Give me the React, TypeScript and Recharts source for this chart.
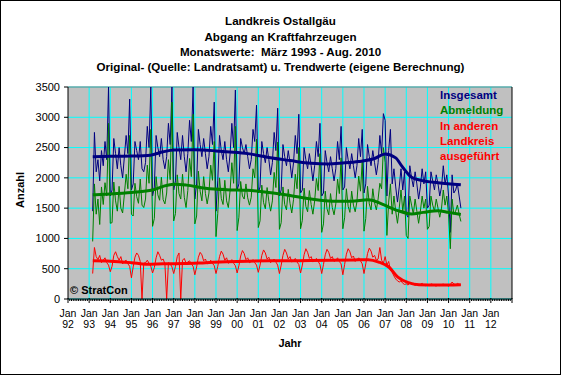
import { LineChart, Line, XAxis, YAxis, CartesianGrid, ReferenceLine } from "recharts"

// Monatswerte März 1993 - Aug. 2010 (one value per month)
const firstYear = 1993
const firstMonth = 2 // März

const insgesamt = [
  1450, 2750, 2100, 2300, 1950, 2450, 2200, 2600, 2300, 3500, // 1993
  1700, 1800, 2650, 2400, 2150, 2500, 2200, 2000, 2350, 2700, 2400, 3300,
  1800, 1900, 2600, 2450, 2300, 2600, 2150, 2100, 2250, 2850, 2500, 3500,
  1700, 1850, 2700, 2500, 2350, 2650, 2300, 2150, 2350, 2900, 2550, 3500,
  1800, 1950, 2750, 2500, 2300, 2700, 2350, 2100, 2400, 2950, 2600, 3500,
  1650, 1900, 2800, 2550, 2350, 2650, 2400, 2150, 2350, 2850, 2550, 3250,
  1450, 1950, 2700, 2450, 2300, 2600, 2300, 2100, 2400, 2900, 2500, 3450,
  1800, 1900, 2650, 2500, 2400, 2550, 2350, 2150, 2300, 2800, 2600, 3200,
  1750, 1850, 2600, 2400, 2250, 2500, 2300, 2050, 2250, 2750, 2450, 3150,
  1700, 1800, 2550, 2350, 2200, 2450, 2250, 2000, 2250, 2700, 2400, 3050,
  1750, 1800, 2500, 2300, 2150, 2400, 2200, 1950, 2200, 2600, 2350, 2900,
  1700, 1750, 2450, 2250, 2100, 2350, 2150, 1950, 2150, 2600, 2300, 2850,
  1800, 1850, 2500, 2300, 2150, 2400, 2200, 2000, 2200, 2650, 2350, 2800,
  1750, 1900, 2550, 2350, 2200, 2450, 2250, 2050, 2250, 2700, 2400, 3060,
  2950, 1700, 2450, 2800, 1900, 2150, 1850, 1600, 1850, 2150, 1800, 2100,
  1400, 1350, 2200, 2000, 1850, 2100, 1900, 1650, 1850, 2150, 1900, 2100,
  1500, 1550, 2100, 1950, 1800, 2050, 1900, 1700, 1850, 2200, 1900, 2050,
  1700, 1100, 2050, 1750, 1800, 1900, 1700, 1500, // 2010
]

const abmeldung = [
  950, 1900, 1400, 1650, 1230, 1850, 1560, 1920, 1700, 2900,
  1250, 1260, 1930, 1620, 1450, 1860, 1500, 1420, 1730, 2060, 1820, 2700,
  1400, 1370, 1910, 1690, 1580, 1980, 1550, 1510, 1650, 2210, 1910, 2800,
  1200, 1330, 2020, 1720, 1630, 2010, 1640, 1570, 1750, 2300, 1970, 3250,
  1290, 1410, 2050, 1740, 1650, 2060, 1680, 1510, 1790, 2320, 2020, 3050,
  1240, 1370, 2110, 1780, 1620, 2020, 1740, 1570, 1750, 2210, 1960, 2600,
  1030, 1410, 2000, 1660, 1560, 1960, 1620, 1510, 1790, 2250, 1910, 2850,
  1130, 1350, 1940, 1700, 1650, 1900, 1670, 1550, 1680, 2150, 2000, 2640,
  1180, 1290, 1880, 1590, 1490, 1840, 1610, 1450, 1620, 2090, 1840, 2590,
  1150, 1260, 1850, 1560, 1470, 1810, 1580, 1420, 1640, 2060, 1820, 2500,
  1160, 1300, 1830, 1530, 1440, 1790, 1560, 1400, 1620, 1990, 1790, 2400,
  1100, 1240, 1780, 1490, 1390, 1740, 1510, 1390, 1570, 1980, 1740, 2330,
  1160, 1340, 1820, 1530, 1430, 1780, 1550, 1440, 1610, 2030, 1780, 2280,
  1120, 1330, 1860, 1570, 1470, 1820, 1590, 1470, 1650, 1910, 1820, 2500,
  2250, 1050, 1600, 1900, 1400, 1700, 1450, 1250, 1500, 1800, 1450, 1700,
  1050, 1000, 1700, 1550, 1400, 1650, 1450, 1250, 1450, 1700, 1500, 1650,
  1150, 1200, 1700, 1550, 1450, 1650, 1500, 1350, 1500, 1800, 1550, 1700,
  1400, 830, 1650, 1400, 1450, 1550, 1400, 1280,
]

const andererLandkreis = [
  420, 850, 700, 650, 720, 600, 640, 680, 600, 560,
  450, 540, 720, 780, 700, 640, 700, 580, 620, 640, 580, 540,
  350, 530, 690, 760, 720, 620, 0, 590, 600, 640, 590, 540,
  430, 520, 680, 780, 720, 640, 660, 580, 0, 600, 580, 530,
  420, 540, 700, 760, 0, 640, 670, 590, 610, 630, 580, 540,
  400, 530, 690, 770, 730, 630, 660, 580, 600, 640, 590, 550,
  420, 540, 700, 790, 740, 640, 680, 590, 610, 650, 590, 550,
  430, 550, 710, 800, 750, 650, 680, 600, 620, 650, 600, 560,
  440, 560, 720, 810, 760, 660, 690, 600, 630, 660, 610, 560,
  420, 560, 720, 820, 760, 660, 700, 610, 630, 670, 610, 570,
  430, 560, 730, 830, 770, 670, 700, 610, 640, 670, 620, 570,
  420, 570, 730, 820, 770, 670, 700, 620, 640, 680, 620, 580,
  400, 570, 740, 830, 780, 680, 710, 620, 650, 680, 630, 580,
  420, 580, 750, 840, 790, 690, 720, 640, 660, 850, 640, 590,
  700, 560, 620, 480, 440, 380, 330, 300, 280, 300, 260, 240,
  250, 230, 270, 240, 260, 220, 250, 230, 240, 260, 230, 220,
  230, 220, 250, 240, 230, 210, 240, 220, 230, 250, 220, 230,
  210, 240, 280, 250, 230, 260, 240, 230,
]

// Trendwerte (eigene Berechnung), Stützstellen in Jahren
const insgesamtTrendX = [1993.17, 1994, 1995, 1995.9, 1996.5, 1997, 1998, 1999, 1999.5, 2000.5, 2001.5, 2002.5, 2003.5, 2004.3, 2005, 2005.75, 2006.5, 2007, 2007.5, 2007.8, 2008.25, 2008.75, 2009.5, 2010.58]
const insgesamtTrend = [2350, 2355, 2360, 2375, 2430, 2460, 2465, 2445, 2430, 2400, 2335, 2285, 2240, 2230, 2245, 2270, 2320, 2395, 2330, 2190, 2010, 1955, 1920, 1885]

const abmeldungTrendX = [1993.17, 1994, 1995, 1996, 1996.5, 1997, 1997.6, 1998.5, 1999.5, 2000.5, 2001.5, 2002.5, 2003.5, 2004.5, 2005.4, 2006.2, 2006.7, 2007, 2007.6, 2008.25, 2008.8, 2009.5, 2010, 2010.58]
const abmeldungTrend = [1720, 1735, 1760, 1800, 1860, 1895, 1880, 1830, 1805, 1795, 1760, 1710, 1650, 1614, 1614, 1637, 1590, 1545, 1460, 1405, 1430, 1459, 1430, 1395]

const landkreisTrendX = [1993.17, 1994, 1995, 1995.7, 1996.5, 1997.5, 1998.5, 1999.5, 2000.5, 2001.5, 2002.5, 2003.5, 2004.5, 2005.5, 2006.2, 2006.7, 2007.2, 2007.6, 2008.1, 2008.6, 2009.5, 2010.58]
const landkreisTrend = [630, 625, 600, 575, 580, 585, 600, 615, 625, 630, 632, 636, 640, 645, 650, 610, 520, 360, 270, 235, 230, 235]

const yTicks = [0, 500, 1000, 1500, 2000, 2500, 3000, 3500]
const gridYears = [1993, 1994, 1995, 1996, 1997, 1998, 1999, 2000, 2001, 2002, 2003, 2004, 2005, 2006, 2007, 2008, 2009, 2010, 2011, 2012]

const font = '"Liberation Sans", Arial, sans-serif'

const monthly = (vals: number[]) =>
  vals.map((v, i) => ({ x: firstYear + (firstMonth + i) / 12, v }))
const pairs = (xs: number[], vals: number[]) => xs.map((x, i) => ({ x, v: vals[i] }))

const xTicks: number[] = []
for (let m = 0; m <= 21 * 12; m++) xTicks.push(1992 + m / 12)

function XTick(props: any) {
  const { x, y, payload } = props
  const val = payload.value as number
  const yr = Math.round(val)
  const isJan = Math.abs(val - yr) < 0.001
  if (!isJan) return <line x1={x} x2={x} y1={y} y2={y + 2} stroke="#000" />
  return (
    <g>
      <line x1={x} x2={x} y1={y - 1} y2={y + 4} stroke="#000" />
      {yr <= 2012 && (
        <text x={x} textAnchor="middle" fontSize={10.5} fontFamily={font} fill="#000">
          <tspan x={x} y={y + 18}>Jan</tspan>
          <tspan x={x} y={y + 29}>{String(yr % 100).padStart(2, "0")}</tspan>
        </text>
      )}
    </g>
  )
}

const txt = (extra: any): any => ({
  position: "absolute", fontFamily: font, fontWeight: "bold", fontSize: 11,
  lineHeight: "14px", whiteSpace: "nowrap", ...extra,
})

export default function App() {
  return (
    <div style={{ position: "absolute", left: 0, top: 0, width: 561, height: 375, background: "#fff" }}>
      <LineChart width={561} height={375} margin={{ top: 87, right: 9, bottom: 36, left: 8 }}>
        <CartesianGrid yAxisId="left" vertical={false} stroke="#00FFFF" fill="#C0C0C0" fillOpacity={1} />
        <XAxis
          dataKey="x" type="number" domain={[1992, 2013]} ticks={xTicks} interval={0}
          tick={<XTick />} tickLine={false} tickSize={0} tickMargin={0} height={40}
          axisLine={{ stroke: "#000" }} allowDataOverflow
        />
        <YAxis
          yAxisId="left" domain={[0, 3500]} ticks={yTicks} width={60} tickSize={4} tickMargin={4}
          tick={{ fill: "#000", fontSize: 11, fontFamily: font }}
          axisLine={{ stroke: "#000" }} tickLine={{ stroke: "#000" }}
        />
        <YAxis
          yAxisId="right" orientation="right" domain={[0, 3500]} ticks={yTicks} width={40} tickSize={4} tickMargin={4}
          tick={{ fill: "#000", fontSize: 11, fontFamily: font, textAnchor: "start" }}
          axisLine={{ stroke: "#000" }} tickLine={{ stroke: "#000" }}
        />
        {gridYears.map((yr) => (
          <ReferenceLine key={yr} yAxisId="left" x={yr} stroke="#00FFFF" />
        ))}
        <ReferenceLine yAxisId="left" y={3500} stroke="#808080" />
        <Line yAxisId="left" data={monthly(insgesamt)} dataKey="v" stroke="#000080" strokeWidth={1} dot={false} isAnimationActive={false} />
        <Line yAxisId="left" data={monthly(abmeldung)} dataKey="v" stroke="#008000" strokeWidth={1} dot={false} isAnimationActive={false} />
        <Line yAxisId="left" data={monthly(andererLandkreis)} dataKey="v" stroke="#FF0000" strokeWidth={1} dot={false} isAnimationActive={false} />
        <Line yAxisId="left" data={pairs(insgesamtTrendX, insgesamtTrend)} dataKey="v" type="monotone" stroke="#000080" strokeWidth={3} dot={false} isAnimationActive={false} />
        <Line yAxisId="left" data={pairs(abmeldungTrendX, abmeldungTrend)} dataKey="v" type="monotone" stroke="#008000" strokeWidth={3} dot={false} isAnimationActive={false} />
        <Line yAxisId="left" data={pairs(landkreisTrendX, landkreisTrend)} dataKey="v" type="monotone" stroke="#FF0000" strokeWidth={3} dot={false} isAnimationActive={false} />
      </LineChart>

      <div style={txt({ left: 0, width: 561, top: 14, textAlign: "center", fontSize: 11.6 })}>Landkreis Ostallgäu</div>
      <div style={txt({ left: 0, width: 561, top: 29.5, textAlign: "center", fontSize: 11.6 })}>Abgang an Kraftfahrzeugen</div>
      <div style={txt({ left: 0, width: 561, top: 45, textAlign: "center", fontSize: 11.6 })}>Monatswerte:&nbsp; März 1993 - Aug. 2010</div>
      <div style={txt({ left: 0, width: 561, top: 60, textAlign: "center", fontSize: 11.6 })}>Original- (Quelle: Landratsamt) u. Trendwerte (eigene Berechnung)</div>

      <div style={txt({ left: 440, top: 88, color: "#000080", fontSize: 11.5 })}>Insgesamt</div>
      <div style={txt({ left: 440, top: 103, color: "#008000", fontSize: 11.5 })}>Abmeldung</div>
      <div style={txt({ left: 440, top: 118.5, color: "#FF0000", fontSize: 11.5 })}>In anderen</div>
      <div style={txt({ left: 440, top: 134, color: "#FF0000", fontSize: 11.5 })}>Landkreis</div>
      <div style={txt({ left: 440, top: 149, color: "#FF0000", fontSize: 11.5 })}>ausgeführt</div>

      <div style={txt({ left: 70, top: 283 })}>© StratCon</div>
      <div style={txt({ left: 0, width: 580, top: 336, textAlign: "center" })}>Jahr</div>
      <div style={txt({ left: 20, top: 190, transform: "translate(-50%, -50%) rotate(-90deg)" })}>Anzahl</div>

      <div style={{ position: "absolute", inset: 0, border: "1px solid #000", pointerEvents: "none" }} />
    </div>
  )
}
